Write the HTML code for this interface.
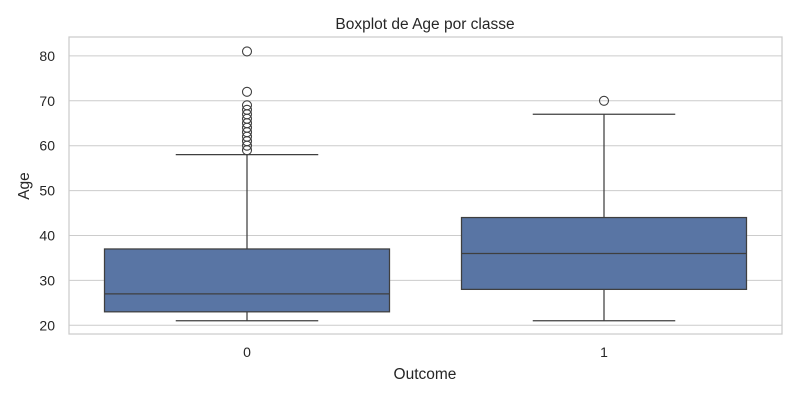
<!DOCTYPE html>
<html><head><meta charset="utf-8"><style>
body{margin:0;background:#fff;}
svg{display:block;font-family:"Liberation Sans","DejaVu Sans",sans-serif;}
</style></head><body>
<svg id="chart" width="800" height="400">
<text x="425" y="29" text-anchor="middle" font-size="15.5" fill="#262626">Boxplot de Age por classe</text>
<text x="0" y="0" transform="translate(29,186) rotate(-90)" text-anchor="middle" font-size="15.5" fill="#262626">Age</text>
<text x="425" y="379" text-anchor="middle" font-size="15.5" fill="#262626">Outcome</text>
<g id="grid"></g><g id="marks"></g>
<rect x="69" y="37" width="713" height="297" fill="none" stroke="#cccccc" stroke-width="1.25"/>
</svg>
<script>
const categories=["0","1"];
const q1=[23,28];
const medians=[27,36];
const q3=[37,44];
const whiskLow=[21,21];
const whiskHigh=[58,67];
const outliers=[[81,72,69,68,67,66,65,64,63,62,61,60,59],[70]];
const yTicks=[20,30,40,50,60,70,80];
const NS="http://www.w3.org/2000/svg";
function y(v){return 325.3-(v-20)*4.49;}
function x(i){return 247+i*357;}
const bw=285;
function mk(t,a,p){const e=document.createElementNS(NS,t);for(const k in a)e.setAttribute(k,a[k]);p.appendChild(e);return e;}
const grid=document.getElementById('grid'),marks=document.getElementById('marks');
yTicks.forEach(t=>{
 const l=mk('line',{x1:69,x2:782,y1:y(t),y2:y(t),stroke:'#cccccc','stroke-width':1},grid);
 
 
 const tx=mk('text',{x:55,y:y(t)+5,'text-anchor':'end','font-size':14,fill:'#262626'},grid);
 tx.textContent=t;
 
 
});
categories.forEach((c,i)=>{
 const cx=x(i);
 const tx=mk('text',{x:cx,y:357,'text-anchor':'middle','font-size':14,fill:'#262626'},grid);
 tx.textContent=c;
 
 
 const st={stroke:'#3f3f3f','stroke-width':1.25};
 const w1=mk('line',Object.assign({x1:cx,x2:cx,y1:y(whiskLow[i]),y2:y(q1[i])},st),marks);
 
 
 const w2=mk('line',Object.assign({x1:cx,x2:cx,y1:y(whiskHigh[i]),y2:y(q3[i])},st),marks);
 
 
 [whiskLow[i],whiskHigh[i]].forEach(v=>{
  const cap=mk('line',Object.assign({x1:cx-bw/4,x2:cx+bw/4,y1:y(v),y2:y(v)},st),marks);
  
  
 });
 const b=mk('rect',{x:cx-bw/2,y:y(q3[i]),width:bw,height:y(q1[i])-y(q3[i]),fill:'#5975a4',stroke:'#3f3f3f','stroke-width':1.25},marks);
 
 
 const m=mk('line',Object.assign({x1:cx-bw/2,x2:cx+bw/2,y1:y(medians[i]),y2:y(medians[i])},st),marks);
 
 
 outliers[i].forEach(v=>{
  const o=mk('circle',{cx:cx,cy:y(v),r:4.5,fill:'none',stroke:'#3f3f3f','stroke-width':1.1},marks);
  
  
 });
});
</script>
</body></html>
